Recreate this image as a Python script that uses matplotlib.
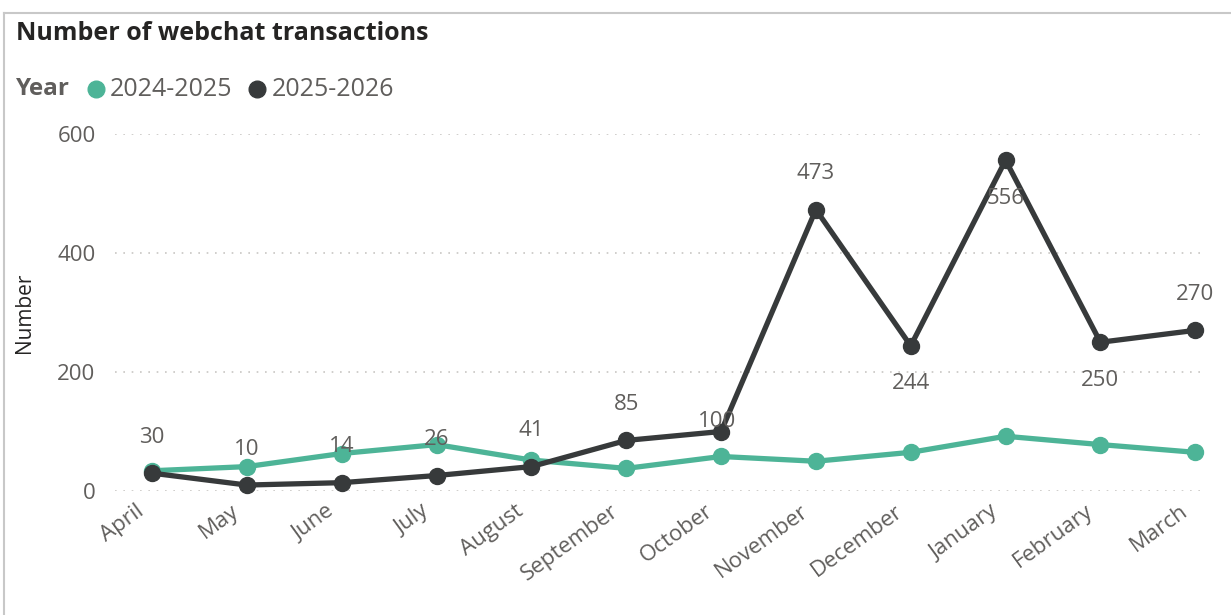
import matplotlib.pyplot as plt
from matplotlib.lines import Line2D
from matplotlib.transforms import ScaledTranslation

plt.rcParams['font.family'] = ['Open Sans', 'DejaVu Sans']

months = ['April', 'May', 'June', 'July', 'August', 'September', 'October',
          'November', 'December', 'January', 'February', 'March']
prev_year = [34, 41, 63, 78, 52, 38, 58, 50, 65, 92, 78, 65]
curr_year = [30, 10, 14, 26, 41, 85, 100, 473, 244, 556, 250, 270]
series_names = ['2024-2025', '2025-2026']
yticks = [0, 200, 400, 600]

green = '#4DB497'
dark = '#373A3B'
grey_txt = '#605E5C'

fig = plt.figure(figsize=(12.31, 6.15), dpi=100)
ax = fig.add_axes([115 / 1231, 1 - 491 / 615, 1085 / 1231, 357 / 615])

x = list(range(len(months)))
ax.plot(x, prev_year, color=green, lw=3.8, marker='o', ms=11.5,
        solid_joinstyle='round', clip_on=False, zorder=3)
ax.plot(x, curr_year, color=dark, lw=3.8, marker='o', ms=11.5,
        solid_joinstyle='round', clip_on=False, zorder=4)

# value labels for the current year, pushed above or below the point
below = {'December', 'January', 'February'}
for xi, m, v in zip(x, months, curr_year):
    dx, dy = 0, 36
    if m in below:
        dy = -38
    if m == 'October':
        dx, dy = -4, 10
    ax.annotate(str(v), (xi, v), xytext=(dx, dy), textcoords='offset pixels',
                ha='center', va='center', fontsize=16, color=grey_txt,
                zorder=5)

ax.set_xlim(-0.39, 11.05)
ax.set_ylim(0, 600)
ax.set_yticks(yticks)
ax.set_yticklabels([str(t) for t in yticks], fontsize=16, color=grey_txt)
ax.set_xticks(x)
ax.set_xticklabels(months, rotation=36, ha='right', rotation_mode='anchor',
                   fontsize=16, color=grey_txt)
ax.tick_params(length=0)
ax.tick_params(axis='y', pad=14)
ax.tick_params(axis='x', pad=4)
# nudge the slanted month names left so they end under their point
shift = ScaledTranslation(-16 / 100, -4 / 100, fig.dpi_scale_trans)
for lbl in ax.get_xticklabels():
    lbl.set_transform(lbl.get_transform() + shift)
ax.grid(axis='y', color='#C8C6C4', linestyle=(0, (1, 4)), lw=1.2)
for s in ax.spines.values():
    s.set_visible(False)
ax.set_ylabel('Number', fontsize=15, color='#252423')
ax.yaxis.set_label_coords(-0.074, 0.5)

# frame and header
fig.add_artist(Line2D([4 / 1231, 1], [1 - 13 / 615] * 2, color='#C8C8C8', lw=1.5))
fig.add_artist(Line2D([4 / 1231] * 2, [0, 1 - 13 / 615], color='#C8C8C8', lw=1.5))
fig.text(16 / 1231, 1 - 33 / 615, 'Number of webchat transactions', fontsize=18,
         fontweight='bold', color='#252423', va='center')
fig.text(16 / 1231, 1 - 89 / 615, 'Year', fontsize=17.5, fontweight='bold',
         color=grey_txt, va='center')
for cx, tx, c, name in [(96, 110, green, series_names[0]),
                        (257, 272, dark, series_names[1])]:
    fig.add_artist(Line2D([cx / 1231], [1 - 89 / 615], marker='o', ms=12,
                          color=c, lw=0))
    fig.text(tx / 1231, 1 - 89 / 615, name, fontsize=18, color=grey_txt,
             va='center')

fig.savefig('out.png', dpi=100)
